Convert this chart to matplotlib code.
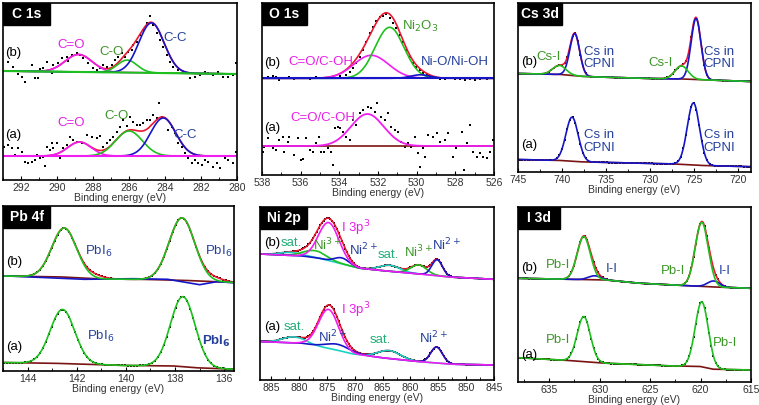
import numpy as np
import matplotlib.pyplot as plt
from matplotlib.patches import Rectangle
from matplotlib.ticker import MultipleLocator

plt.rcParams['font.family'] = ['Liberation Sans', 'DejaVu Sans']

RED = '#ec1630'
MAG = '#f01ef0'
GRN = '#1ec01e'
BLU = '#1616c8'
BRN = '#7a1414'
CYN = '#1ad2c4'
T_GRN = '#3c9628'
T_BLU = '#24409c'
T_MAG = '#e81ee8'
T_TEAL = '#20ad78'

# ---------------- C 1s ----------------
c1s_xlim = (293, 280)
c1s_b_x = [292.70, 292.43, 292.15, 291.96, 291.78, 291.41, 291.22, 291.04, 290.94, 290.76,
           290.57, 290.30, 290.20, 289.93, 289.74, 289.46, 289.37, 289.19, 288.91, 288.72,
           288.54, 288.26, 287.98, 287.80, 287.61, 287.43, 287.24, 286.96, 286.78, 286.59,
           286.41, 286.22, 286.04, 285.85, 285.76, 285.57, 285.39, 285.20, 285.02, 284.83,
           284.65, 284.46, 284.28, 284.09, 283.91, 283.72, 283.54, 283.26, 282.98, 282.61,
           282.33, 282.06, 281.78, 281.59, 281.31, 281.04, 280.76, 280.48, 280.20, 280.06]
c1s_b_y = [118.3, 113.3, 106.0, 103.3, 98.3, 115.0, 101.7, 101.7, 110.7, 111.7,
           118.3, 106.7, 115.0, 116.7, 121.7, 122.7, 119.3, 125.0, 126.7, 125.0,
           121.7, 116.7, 111.7, 110.0, 111.7, 115.0, 113.3, 115.0, 120.0, 123.3,
           126.7, 123.3, 128.3, 130.0, 135.0, 138.3, 145.0, 150.0, 156.7, 164.0,
           155.0, 146.7, 140.0, 133.3, 125.0, 118.3, 113.3, 110.0, 108.3, 101.7,
           103.3, 105.0, 108.3, 106.7, 105.0, 108.3, 103.3, 102.7, 105.0, 116.7]
c1s_a_x = [292.94, 292.70, 292.52, 292.33, 292.15, 291.96, 291.78, 291.59, 291.41, 291.22,
           291.13, 290.94, 290.76, 290.67, 290.57, 290.39, 290.30, 290.20, 290.02, 289.83,
           289.65, 289.46, 289.28, 289.09, 288.91, 288.63, 288.35, 288.07, 287.80, 287.61,
           287.43, 287.24, 287.06, 286.87, 286.69, 286.50, 286.31, 286.13, 285.94, 285.76,
           285.57, 285.39, 285.20, 285.02, 284.83, 284.65, 284.46, 284.31, 284.19, 284.00,
           283.81, 283.63, 283.44, 283.26, 283.07, 282.89, 282.70, 282.52, 282.33, 282.15,
           281.96, 281.78, 281.59, 281.31, 281.13, 280.94, 280.67, 280.48, 280.20, 280.06]
c1s_a_y = [33.3, 35.0, 31.7, 25.0, 31.7, 28.3, 18.3, 16.7, 18.3, 20.0,
           25.0, 21.7, 23.3, 14.3, 33.3, 30.0, 36.7, 31.7, 36.7, 21.7,
           31.7, 35.0, 43.3, 40.0, 38.3, 36.7, 45.0, 43.3, 41.7, 44.0,
           33.3, 36.7, 40.0, 43.3, 48.3, 53.3, 60.0, 54.0, 63.3, 58.3,
           55.0, 55.0, 56.7, 60.0, 60.0, 65.0, 61.7, 76.7, 63.3, 61.7,
           50.0, 53.3, 46.7, 36.7, 33.3, 26.7, 21.7, 16.7, 20.0, 16.7,
           15.0, 20.0, 18.3, 13.3, 16.7, 11.7, 21.7, 20.0, 16.7, 28.3]
c1s_b_bg = [109.0, 106.0]
c1s_a_bg = [24.0, 24.0]
# C=O, C-O, C-C
c1s_b_cen = [288.8, 286.1, 284.75]
c1s_b_amp = [17.5, 12.5, 50.0]
c1s_b_wid = [0.75, 0.55, 0.7]
c1s_a_cen = [288.75, 286.0, 284.1]
c1s_a_amp = [14.0, 25.0, 38.0]
c1s_a_wid = [0.65, 0.75, 0.7]

# ---------------- O 1s ----------------
o1s_xlim = (538, 526)
o1s_b_x = [537.88, 537.71, 537.45, 537.27, 537.10, 536.84, 536.58, 536.32, 536.06, 535.80,
           535.54, 535.20, 534.94, 534.68, 534.33, 533.99, 533.64, 533.47, 533.30, 533.12,
           532.95, 532.78, 532.60, 532.43, 532.26, 532.09, 531.91, 531.74, 531.57, 531.39,
           531.22, 531.05, 530.88, 530.70, 530.53, 530.36, 530.18, 530.01, 529.84, 529.67,
           529.49, 529.32, 529.06, 528.80, 528.54, 528.28, 528.02, 527.76, 527.50, 527.24,
           526.99, 526.73, 526.38, 526.12]
o1s_b_y = [96.7, 97.7, 99.0, 97.7, 95.0, 96.7, 97.7, 96.3, 97.3, 97.0,
           96.3, 97.7, 96.7, 97.3, 98.3, 99.0, 100.0, 103.3, 106.7, 111.7,
           118.3, 125.0, 133.3, 141.7, 148.3, 154.3, 157.7, 159.0, 161.0, 156.7,
           151.7, 146.7, 140.0, 133.3, 125.0, 118.3, 111.7, 108.3, 105.0, 102.3,
           100.0, 99.0, 97.7, 96.3, 95.7, 96.7, 96.3, 95.7, 95.0, 96.3,
           95.0, 95.7, 96.3, 96.7]
o1s_a_x = [537.97, 537.88, 537.71, 537.45, 537.27, 537.10, 536.93, 536.84, 536.67, 536.58,
           536.32, 536.15, 535.98, 535.89, 535.72, 535.54, 535.37, 535.20, 535.03, 534.94,
           534.77, 534.59, 534.42, 534.33, 534.25, 534.07, 533.99, 533.82, 533.64, 533.47,
           533.30, 533.12, 532.95, 532.78, 532.52, 532.35, 532.17, 532.05, 531.83, 531.65,
           531.48, 531.31, 531.13, 530.96, 530.79, 530.62, 530.44, 530.27, 530.10, 529.92,
           529.84, 529.67, 529.58, 529.41, 529.15, 528.97, 528.80, 528.54, 528.37, 528.11,
           527.94, 527.68, 527.56, 527.42, 527.24, 527.07, 526.89, 526.73, 526.55, 526.38,
           526.21, 526.03]
o1s_a_y = [23.3, 28.3, 36.7, 26.7, 25.0, 35.0, 38.3, 23.3, 33.3, 38.3,
           20.0, 36.7, 15.0, 15.7, 36.7, 25.0, 23.3, 31.7, 38.3, 23.3,
           23.3, 26.7, 23.3, 10.0, 46.7, 48.3, 46.7, 43.3, 38.3, 35.0,
           55.0, 50.0, 61.7, 65.0, 68.3, 66.7, 63.3, 71.7, 58.3, 55.0,
           61.7, 48.3, 45.0, 43.3, 33.3, 28.3, 31.7, 28.3, 38.3, 21.7,
           8.3, 26.7, 18.3, 40.0, 38.3, 41.7, 33.3, 35.0, 41.7, 18.3,
           26.7, 43.3, 5.0, 31.7, 50.0, 23.3, 18.3, 21.7, 18.3, 16.7,
           23.3, 35.0]
o1s_b_bg = 96.7
o1s_a_bg = 29.0
# C=O/C-OH, Ni2O3, Ni-O/Ni-OH
o1s_b_cen = [532.35, 531.4, 529.8]
o1s_b_amp = [23.0, 51.0, 3.5]
o1s_b_wid = [0.9, 0.75, 0.5]
o1s_a_cen = [532.55]
o1s_a_amp = [32.0]
o1s_a_wid = [0.85]

# ---------------- Cs 3d ----------------
cs_xlim = (745, 718.5)
cs_b_bgx = [745, 740, 737.5, 735, 729, 726, 723.5, 718.5]
cs_b_bgy = [98.5, 97.5, 95.5, 94.7, 93.3, 93.0, 92.0, 90.5]
cs_a_bgx = [745, 740, 737.5, 727, 723.5, 718.5]
cs_a_bgy = [12.5, 11.5, 10.0, 8.0, 6.3, 5.3]
cs_b_csi_cen = [740.3, 726.4]
cs_b_csi_amp = [9.0, 13.0]
cs_b_csi_wid = [0.75, 0.75]
cs_b_cpni_cen = [738.55, 724.75]
cs_b_cpni_amp = [42.0, 61.0]
cs_b_cpni_wid = [0.56, 0.56]
cs_a_cpni_cen = [738.85, 725.05]
cs_a_cpni_amp = [44.0, 62.0]
cs_a_cpni_wid = [0.7, 0.7]

# ---------------- Pb 4f ----------------
pb_xlim = (145, 135.6)
pb_b_bgx = [145, 142.5, 141, 139, 137.5, 136.5, 135.6]
pb_b_bgy = [95.0, 94.0, 92.0, 91.5, 90.5, 89.5, 88.5]
pb_b_blue_x = [145, 144.8, 141.7, 139.7, 138.3, 137.0, 136.3, 135.6]
pb_b_blue_y = [95.0, 95.0, 91.7, 92.3, 91.7, 86.3, 89.3, 88.3]
pb_a_bgx = [145, 142.5, 140, 138, 137, 135.6]
pb_a_bgy = [8.5, 7.5, 5.5, 5.0, 3.0, 1.8]
pb_b_cen = [142.51, 137.72]
pb_b_amp = [49.0, 62.5]
pb_b_wid = [0.5, 0.52]
pb_b_extra_cen = [141.3, 136.4]
pb_b_extra_amp = [3.0, 3.0]
pb_b_extra_wid = [0.4, 0.4]
pb_a_cen = [142.58, 137.68]
pb_a_amp = [54.0, 70.0]
pb_a_wid = [0.5, 0.5]

# ---------------- Ni 2p ----------------
ni_xlim = (887, 845)
ni_b_bgx = [887, 879.3, 876.3, 871.5, 869.1, 864.3, 858.3, 852.3, 845]
ni_b_bgy = [126.0, 124.0, 121.7, 115.0, 111.7, 109.0, 106.0, 102.7, 100.7]
ni_a_bgx = [887, 879.3, 873.3, 870.3, 864.3, 858.3, 854.7, 852.3, 845]
ni_a_bgy = [38.5, 36.7, 30.0, 26.0, 21.7, 18.3, 16.7, 15.7, 15.0]
# (b) components
ni_b_i3p = [874.65, 38.0, 1.85]
ni_b_ni2_cen = [872.3, 855.2]
ni_b_ni2_amp = [6.0, 16.0]
ni_b_ni2_wid = [1.3, 0.95]
ni_b_ni3_cen = [877.2, 858.5]
ni_b_ni3_amp = [7.0, 9.0]
ni_b_ni3_wid = [2.0, 1.4]
ni_b_sat_cen = [881.5, 863.7]
ni_b_sat_amp = [3.0, 6.0]
ni_b_sat_wid = [2.0, 1.8]
# (a) components
ni_a_i3p = [874.7, 39.0, 1.8]
ni_a_ni2_cen = [873.0, 855.3]
ni_a_ni2_amp = [6.0, 16.0]
ni_a_ni2_wid = [2.2, 1.05]
ni_a_sat_cen = [881.0, 863.8]
ni_a_sat_amp = [6.0, 8.0]
ni_a_sat_wid = [2.0, 2.0]

# ---------------- I 3d ----------------
i3d_xlim = (638.1, 615)
i3d_b_bgx = [638.1, 629.35, 626.0, 622.7, 620.7, 618.0, 615.0]
i3d_b_bgy = [103.7, 102.0, 98.7, 97.0, 96.0, 94.7, 93.7]
i3d_a_bgx = [638.1, 632.7, 629.35, 622.7, 620.0, 618.7, 615.0]
i3d_a_bgy = [24.3, 21.3, 18.7, 16.0, 15.5, 12.7, 12.0]
i3d_b_pbi_cen = [631.58, 619.88]
i3d_b_pbi_amp = [43.0, 64.0]
i3d_b_pbi_wid = [0.65, 0.65]
i3d_b_ii_cen = [630.5, 618.7]
i3d_b_ii_amp = [4.0, 6.0]
i3d_b_ii_wid = [0.6, 0.6]
i3d_a_pbi_cen = [631.58, 619.88]
i3d_a_pbi_amp = [45.0, 65.0]
i3d_a_pbi_wid = [0.65, 0.65]


def peaks(x, cen, amp, wid):
    y = np.zeros_like(x)
    for c, a, w in zip(cen, amp, wid):
        y += a * np.exp(-(x - c) ** 2 / (2 * w ** 2))
    return y


def bg_line(x, kx, ky):
    # knots are given from high to low binding energy
    return np.interp(x, kx[::-1], ky[::-1])


W = 759.0
H = 405.0


def add_axes(fig, l, t, r, b):
    ax = fig.add_axes([l / W, 1 - b / H, (r - l) / W, (b - t) / H])
    ax.px_size = (r - l, b - t)
    return ax


def setup(ax, xlim, ytop, title, major, minor, box_w=46):
    ax.set_xlim(*xlim)
    ax.set_ylim(0, ytop)
    ax.set_yticks([])
    ax.xaxis.set_major_locator(MultipleLocator(major))
    ax.xaxis.set_minor_locator(MultipleLocator(minor))
    ax.tick_params(axis='x', which='major', direction='in', length=3, width=0.8,
                   labelsize=7.5, pad=2, labelcolor='#333333')
    ax.tick_params(axis='x', which='minor', direction='in', length=2, width=0.6)
    for s in ax.spines.values():
        s.set_linewidth(1.2)
    ax.set_xlabel('Binding energy (eV)', fontsize=7.5, labelpad=0, color='#333333')
    # black title tab in the top left corner
    wpx, hpx = ax.px_size
    bw, bh = box_w / wpx, 22.0 / hpx
    ax.add_patch(Rectangle((0, 1 - bh), bw, bh, transform=ax.transAxes,
                           facecolor='black', edgecolor='black', zorder=5))
    ax.text(bw / 2, 1 - bh / 2, title, transform=ax.transAxes, ha='center', va='center',
            color='white', fontsize=10, fontweight='bold', zorder=6)


def dots(ax, x, y):
    ax.plot(x, y, 's', color='black', markersize=1.9, markeredgewidth=0)


fig = plt.figure(figsize=(7.59, 4.05), dpi=100)
lw = 1.2

# ---- C 1s ----
ax = add_axes(fig, 3, 3, 237, 180)
setup(ax, c1s_xlim, 177, 'C 1s', 2, 1, 47)
x = np.linspace(280, 293, 600)
bgb = np.interp(x, [280, 293], c1s_b_bg[::-1])
bga = np.interp(x, [280, 293], c1s_a_bg[::-1])
dots(ax, c1s_b_x, c1s_b_y)
dots(ax, c1s_a_x, c1s_a_y)
ax.plot(x, bgb + peaks(x, c1s_b_cen, c1s_b_amp, c1s_b_wid), color=RED, lw=lw)
ax.plot(x, bga + peaks(x, c1s_a_cen, c1s_a_amp, c1s_a_wid), color=RED, lw=lw)
for i, col in enumerate([MAG, GRN, BLU]):
    ax.plot(x, bgb + peaks(x, [c1s_b_cen[i]], [c1s_b_amp[i]], [c1s_b_wid[i]]), color=col, lw=lw)
    ax.plot(x, bga + peaks(x, [c1s_a_cen[i]], [c1s_a_amp[i]], [c1s_a_wid[i]]), color=col, lw=lw)
ax.plot(x, bgb, color=GRN, lw=1.5)
ax.plot(x, bga - 0.3, color=BRN, lw=lw)
ax.plot(x, bga, color=MAG, lw=1.5)
ax.text(292.9, 126.7, '(b)', fontsize=9.5, va='center')
ax.text(292.9, 45, '(a)', fontsize=9.5, va='center')
ax.text(289.2, 135, 'C=O', fontsize=9.5, color=T_MAG, ha='center', va='center')
ax.text(286.96, 128.3, 'C-O', fontsize=9.5, color=T_GRN, ha='center', va='center')
ax.text(283.44, 141.7, 'C-C', fontsize=9.5, color=T_BLU, ha='center', va='center')
ax.text(289.2, 57.3, 'C=O', fontsize=9.5, color=T_MAG, ha='center', va='center')
ax.text(286.7, 64, 'C-O', fontsize=9.5, color=T_GRN, ha='center', va='center')
ax.text(282.9, 45, 'C-C', fontsize=9.5, color=T_BLU, ha='center', va='center')

# ---- O 1s ----
ax = add_axes(fig, 262, 3, 494, 175)
setup(ax, o1s_xlim, 172, 'O 1s', 2, 1, 45)
x = np.linspace(526, 538, 600)
dots(ax, o1s_b_x, o1s_b_y)
dots(ax, o1s_a_x, o1s_a_y)
ax.plot(x, o1s_b_bg + peaks(x, o1s_b_cen, o1s_b_amp, o1s_b_wid), color=RED, lw=lw)
for i, col in enumerate([MAG, GRN, BLU]):
    ax.plot(x, o1s_b_bg + peaks(x, [o1s_b_cen[i]], [o1s_b_amp[i]], [o1s_b_wid[i]]), color=col, lw=lw)
ax.axhline(o1s_b_bg, color=BLU, lw=1.5)
ax.axhline(o1s_a_bg - 0.3, color=BRN, lw=lw)
ax.plot(x, o1s_a_bg + peaks(x, o1s_a_cen, o1s_a_amp, o1s_a_wid), color=MAG, lw=1.3)
ax.text(537.88, 112.3, '(b)', fontsize=9.5, va='center')
ax.text(537.88, 46.7, '(a)', fontsize=9.5, va='center')
ax.text(534.94, 113.3, 'C=O/C-OH', fontsize=9.5, color=T_MAG, ha='center', va='center')
ax.text(529.84, 148.3, 'Ni$_2$O$_3$', fontsize=9.5, color=T_GRN, ha='center', va='center')
ax.text(528.02, 113.3, 'Ni-O/Ni-OH', fontsize=9.5, color=T_BLU, ha='center', va='center')
ax.text(534.85, 56.7, 'C=O/C-OH', fontsize=9.5, color=T_MAG, ha='center', va='center')

# ---- Cs 3d ----
ax = add_axes(fig, 518, 3, 751, 172)
setup(ax, cs_xlim, 169, 'Cs 3d', 5, 2.5, 44)
x = np.linspace(718.5, 745, 900)
bgb = bg_line(x, cs_b_bgx, cs_b_bgy)
bga = bg_line(x, cs_a_bgx, cs_a_bgy)
env_b = bgb + peaks(x, cs_b_csi_cen, cs_b_csi_amp, cs_b_csi_wid) + peaks(x, cs_b_cpni_cen, cs_b_cpni_amp, cs_b_cpni_wid)
env_a = bga + peaks(x, cs_a_cpni_cen, cs_a_cpni_amp, cs_a_cpni_wid)
xs = np.arange(718.7, 745, 0.3)
dots(ax, xs, np.interp(xs, x, env_b))
dots(ax, xs, np.interp(xs, x, env_a))
ax.plot(x, env_b, color=RED, lw=lw)
ax.plot(x, bgb, color=BRN, lw=lw)
ax.plot(x, bgb + peaks(x, cs_b_cpni_cen, cs_b_cpni_amp, cs_b_cpni_wid), color=BLU, lw=lw)
ax.plot(x, bgb + peaks(x, cs_b_csi_cen, cs_b_csi_amp, cs_b_csi_wid), color=GRN, lw=lw)
ax.plot(x, bga, color=BRN, lw=lw)
ax.plot(x, env_a, color=BLU, lw=lw)
ax.text(744.7, 109.7, '(b)', fontsize=9.5, va='center')
ax.text(744.7, 26.7, '(a)', fontsize=9.5, va='center')
ax.text(741.5, 115, 'Cs-I', fontsize=9.5, color=T_GRN, ha='center', va='center')
ax.text(728.8, 109, 'Cs-I', fontsize=9.5, color=T_GRN, ha='center', va='center')
for xx in [735.8, 722.1]:
    ax.text(xx, 114, 'Cs in\nCPNI', fontsize=9.5, color=T_BLU, ha='center', va='center', linespacing=1.05)
    ax.text(xx, 30.7, 'Cs in\nCPNI', fontsize=9.5, color=T_BLU, ha='center', va='center', linespacing=1.05)

# ---- Pb 4f ----
ax = add_axes(fig, 3, 206, 234, 371)
setup(ax, pb_xlim, 165, 'Pb 4f', 2, 1, 47)
x = np.linspace(135.6, 145, 600)
bgb = bg_line(x, pb_b_bgx, pb_b_bgy)
bga = bg_line(x, pb_a_bgx, pb_a_bgy)
fit_b = bgb + peaks(x, pb_b_cen, pb_b_amp, pb_b_wid)
env_b = fit_b + peaks(x, pb_b_extra_cen, pb_b_extra_amp, pb_b_extra_wid)
fit_a = bga + peaks(x, pb_a_cen, pb_a_amp, pb_a_wid)
xs = np.arange(135.7, 145, 0.12)
dots(ax, xs, np.interp(xs, x, env_b))
dots(ax, xs, np.interp(xs, x, fit_a))
ax.plot(x, env_b, color=RED, lw=lw)
ax.plot(x, bgb, color=BRN, lw=lw)
ax.plot(pb_b_blue_x, pb_b_blue_y, color=BLU, lw=lw)
ax.plot(x, fit_b, color=GRN, lw=lw)
ax.plot(x, bga, color=BRN, lw=lw)
ax.plot(x, fit_a, color=GRN, lw=lw)
ax.text(144.88, 109.3, '(b)', fontsize=9.5, va='center')
ax.text(144.88, 24.3, '(a)', fontsize=9.5, va='center')
ax.text(141.09, 119.3, 'PbI$_6$', fontsize=9.5, color=T_BLU, ha='center', va='center')
ax.text(136.23, 119.3, 'PbI$_6$', fontsize=9.5, color=T_BLU, ha='center', va='center')
ax.text(141.03, 34.3, 'PbI$_6$', fontsize=9.5, color=T_BLU, ha='center', va='center')
ax.text(136.3, 29.3, r'PbI$_\mathbf{6}$', fontsize=9.5, color=T_BLU, ha='center', va='center',
        fontweight='bold')

# ---- Ni 2p ----
ax = add_axes(fig, 260, 207, 494, 380)
setup(ax, ni_xlim, 173, 'Ni 2p', 5, 2.5, 47)
x = np.linspace(845, 887, 900)
bgb = bg_line(x, ni_b_bgx, ni_b_bgy)
bga = bg_line(x, ni_a_bgx, ni_a_bgy)
b_i3p = peaks(x, [ni_b_i3p[0]], [ni_b_i3p[1]], [ni_b_i3p[2]])
b_ni2 = peaks(x, ni_b_ni2_cen, ni_b_ni2_amp, ni_b_ni2_wid)
b_ni3 = peaks(x, ni_b_ni3_cen, ni_b_ni3_amp, ni_b_ni3_wid)
b_sat = peaks(x, ni_b_sat_cen, ni_b_sat_amp, ni_b_sat_wid)
a_i3p = peaks(x, [ni_a_i3p[0]], [ni_a_i3p[1]], [ni_a_i3p[2]])
a_ni2 = peaks(x, ni_a_ni2_cen, ni_a_ni2_amp, ni_a_ni2_wid)
a_sat = peaks(x, ni_a_sat_cen, ni_a_sat_amp, ni_a_sat_wid)
env_b = bgb + b_i3p + b_ni2 + b_ni3 + b_sat
env_a = bga + a_i3p + a_ni2 + a_sat
xs = np.arange(845.3, 887, 0.3)
dots(ax, xs, np.interp(xs, x, env_b))
dots(ax, xs, np.interp(xs, x, env_a))
ax.plot(x, env_b, color=RED, lw=lw)
ax.plot(x, bgb + b_sat, color=CYN, lw=lw)
ax.plot(x, bgb + b_ni3, color=GRN, lw=lw)
ax.plot(x, bgb + b_ni2, color=BLU, lw=lw)
ax.plot(x, bgb + b_i3p, color=MAG, lw=lw)
ax.plot(x, env_a, color=RED, lw=lw)
ax.plot(x, bga + a_sat, color=CYN, lw=lw)
ax.plot(x, bga + a_ni2, color=BLU, lw=lw)
ax.plot(x, bga + a_i3p, color=MAG, lw=lw)
ax.text(886.2, 136.7, '(b)', fontsize=9.5, va='center')
ax.text(886.2, 53.3, '(a)', fontsize=9.5, va='center')
ax.text(881.4, 137.3, 'sat.', fontsize=9.5, color=T_TEAL, ha='center', va='center')
ax.text(874.8, 135, 'Ni$^{3+}$', fontsize=9.5, color=T_GRN, ha='center', va='center')
ax.text(872.5, 151.7, 'I 3p$^3$', fontsize=9.5, color=T_MAG, ha='left', va='center')
ax.text(868.5, 130, 'Ni$^{2+}$', fontsize=9.5, color=T_BLU, ha='center', va='center')
ax.text(864.0, 125, 'sat.', fontsize=9.5, color=T_TEAL, ha='center', va='center')
ax.text(858.6, 128.3, 'Ni$^{3+}$', fontsize=9.5, color=T_GRN, ha='center', va='center')
ax.text(853.5, 135, 'Ni$^{2+}$', fontsize=9.5, color=T_BLU, ha='center', va='center')
ax.text(880.8, 53.3, 'sat.', fontsize=9.5, color=T_TEAL, ha='center', va='center')
ax.text(872.5, 70, 'I 3p$^3$', fontsize=9.5, color=T_MAG, ha='left', va='center')
ax.text(873.9, 43.3, 'Ni$^{2+}$', fontsize=9.5, color=T_BLU, ha='center', va='center')
ax.text(865.5, 40, 'sat.', fontsize=9.5, color=T_TEAL, ha='center', va='center')
ax.text(855.9, 41.7, 'Ni$^{2+}$', fontsize=9.5, color=T_BLU, ha='center', va='center')

# ---- I 3d ----
ax = add_axes(fig, 518, 207, 751, 382)
setup(ax, i3d_xlim, 175, 'I 3d', 5, 2.5, 42)
x = np.linspace(615, 638.1, 900)
bgb = bg_line(x, i3d_b_bgx, i3d_b_bgy)
bga = bg_line(x, i3d_a_bgx, i3d_a_bgy)
b_pbi = peaks(x, i3d_b_pbi_cen, i3d_b_pbi_amp, i3d_b_pbi_wid)
b_ii = peaks(x, i3d_b_ii_cen, i3d_b_ii_amp, i3d_b_ii_wid)
a_pbi = peaks(x, i3d_a_pbi_cen, i3d_a_pbi_amp, i3d_a_pbi_wid)
env_b = bgb + b_pbi + b_ii
xs = np.arange(615.2, 638.1, 0.22)
dots(ax, xs, np.interp(xs, x, env_b))
dots(ax, xs, np.interp(xs, x, bga + a_pbi))
ax.plot(x, env_b, color=RED, lw=lw)
ax.plot(x, bgb, color=BRN, lw=lw)
ax.plot(x, bgb + b_ii, color=BLU, lw=lw)
ax.plot(x, bgb + b_pbi, color=GRN, lw=lw)
ax.plot(x, bga, color=BRN, lw=lw)
ax.plot(x, bga + a_pbi, color=GRN, lw=lw)
ax.text(637.8, 113.7, '(b)', fontsize=9.5, va='center')
ax.text(637.8, 27, '(a)', fontsize=9.5, va='center')
ax.text(634.17, 117, 'Pb-I', fontsize=9.5, color=T_GRN, ha='center', va='center')
ax.text(622.71, 111.3, 'Pb-I', fontsize=9.5, color=T_GRN, ha='center', va='center')
ax.text(628.85, 112.7, 'I-I', fontsize=9.5, color=T_BLU, ha='center', va='center')
ax.text(617.56, 111.3, 'I-I', fontsize=9.5, color=T_BLU, ha='center', va='center')
ax.text(634.17, 42, 'Pb-I', fontsize=9.5, color=T_GRN, ha='center', va='center')
ax.text(617.56, 38.7, 'Pb-I', fontsize=9.5, color=T_GRN, ha='center', va='center')

fig.savefig('out.png', dpi=100)
